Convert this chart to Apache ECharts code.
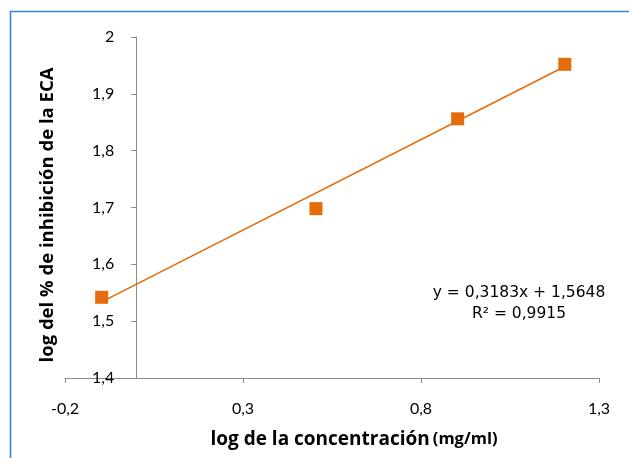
<!DOCTYPE html>
<html>
<head>
<meta charset="utf-8">
<script src="https://cdn.jsdelivr.net/npm/echarts@6/dist/echarts.min.js"></script>
<style>
  html, body { margin: 0; padding: 0; background: #fff; }
  #chart { width: 629px; height: 458px; }
</style>
</head>
<body>
<div id="chart"></div>
<script>
// log of concentration (mg/ml) and log of % ACE inhibition
const logConc = [-0.097, 0.505, 0.903, 1.204];
const logInhib = [1.542, 1.698, 1.856, 1.952];
// linear trend line coefficients
const slope = 0.3183;
const intercept = 1.5648;
const rSquared = 0.9915;

const xTicks = { min: -0.2, max: 1.3, interval: 0.5 };
const yTicks = { min: 1.4, max: 2.0, interval: 0.1 };

const comma = v => String(Math.round(v * 10) / 10).replace('.', ',');
const fmt4 = v => v.toFixed(4).replace('.', ',');

const points = logConc.map((x, i) => [x, logInhib[i]]);
const xLo = Math.min(...logConc), xHi = Math.max(...logConc);
const trend = [[xLo, slope * xLo + intercept], [xHi, slope * xHi + intercept]];

const FONT = 'Lato, "Liberation Sans", sans-serif';
const TITLE_FONT = '"Open Sans", Lato, sans-serif';
const EQ_FONT = '"DejaVu Sans", Lato, sans-serif';
const ORANGE = '#E46C0A';
const AXIS = '#8C8C8C';

const W = 629, H = 458;
const grid = { left: 65, right: 30, top: 37, bottom: 80 };
// the vertical axis crosses the horizontal one at x = 0
const plotW = W - grid.left - grid.right;
const yAxisShift = -(0 - xTicks.min) / (xTicks.max - xTicks.min) * plotW;

const chart = echarts.init(document.getElementById('chart'), null, { renderer: 'canvas' });
chart.setOption({
  animation: false,
  backgroundColor: '#fff',
  textStyle: { fontFamily: FONT },
  grid: Object.assign({ containLabel: false, outerBoundsMode: 'none' }, grid),
  graphic: [
    {
      type: 'polyline',
      shape: { points: [[10.5, 470], [10.5, 11.5], [640, 11.5]] },
      style: { stroke: '#3A85D4', lineWidth: 1.6, fill: null },
      z: 100
    },
    {
      type: 'text',
      x: 519, y: 282,
      style: {
        text: 'y = ' + fmt4(slope) + 'x + ' + fmt4(intercept) + '\nR² = ' + fmt4(rSquared),
        align: 'center', lineHeight: 21,
        font: '15.5px ' + EQ_FONT, fill: '#000'
      }
    },
    {
      type: 'text',
      x: 48, y: 215,
      rotation: Math.PI / 2,
      style: {
        text: 'log del % de inhibición de la ECA',
        align: 'center', verticalAlign: 'middle',
        font: 'bold 18.5px ' + TITLE_FONT, fill: '#000'
      }
    }
  ],
  xAxis: {
    type: 'value',
    min: xTicks.min, max: xTicks.max, interval: xTicks.interval,
    splitLine: { show: false },
    axisLine: { lineStyle: { color: AXIS, width: 1 } },
    axisTick: { show: true, length: 5, lineStyle: { color: AXIS } },
    axisLabel: { formatter: comma, fontSize: 16, color: '#000', margin: 23, fontFamily: FONT },
    name: '{b|log de la concentración} {s|(mg/ml)}',
    nameLocation: 'middle',
    nameGap: 52,
    nameMoveOverlap: false,
    nameTextStyle: {
      padding: [0, 0, 0, 44],
      rich: {
        b: { fontSize: 19, fontWeight: 'bold', color: '#000', fontFamily: TITLE_FONT },
        s: { fontSize: 16.5, fontWeight: 'bold', color: '#000', fontFamily: TITLE_FONT }
      }
    }
  },
  yAxis: {
    type: 'value',
    min: yTicks.min, max: yTicks.max, interval: yTicks.interval,
    offset: yAxisShift,
    splitLine: { show: false },
    axisLine: { onZero: false, lineStyle: { color: AXIS, width: 1 } },
    axisTick: { show: true, length: 5, lineStyle: { color: AXIS } },
    axisLabel: { formatter: comma, fontSize: 16, color: '#000', margin: 22, fontFamily: FONT }
  },
  series: [
    {
      type: 'line',
      data: trend,
      symbol: 'none',
      lineStyle: { color: ORANGE, width: 1.6 },
      z: 2
    },
    {
      type: 'scatter',
      data: points,
      symbol: 'rect',
      symbolSize: 13,
      itemStyle: { color: ORANGE, opacity: 1 },
      z: 3
    }
  ]
});
</script>
</body>
</html>
